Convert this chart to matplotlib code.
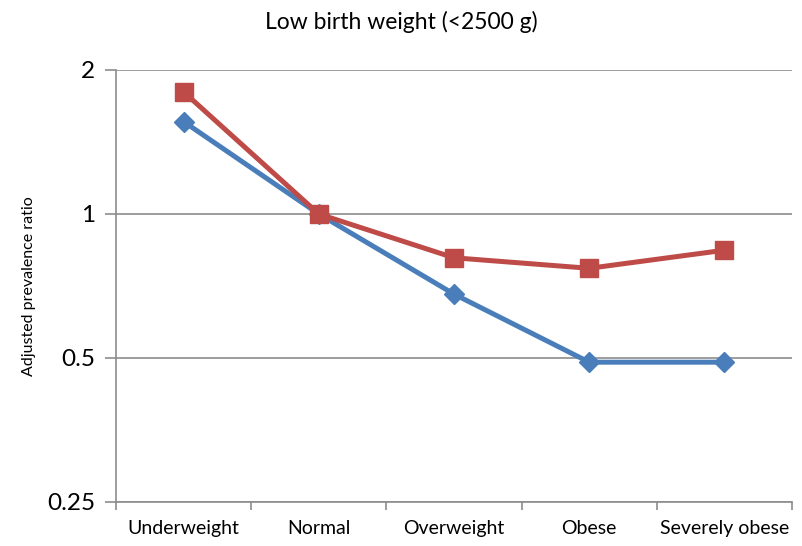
import matplotlib
matplotlib.use("Agg")
import matplotlib.pyplot as plt
from matplotlib.ticker import FixedLocator, NullLocator

categories = ["Underweight", "Normal", "Overweight", "Obese", "Severely obese"]
blue_vals = [1.56, 1.0, 0.68, 0.49, 0.49]
red_vals = [1.80, 1.0, 0.81, 0.77, 0.84]
y_ticks = [0.25, 0.5, 1, 2]
y_labels = ["0.25", "0.5", "1", "2"]

plt.rcParams['font.family'] = ['Lato', 'DejaVu Sans']

fig = plt.figure(figsize=(8.03, 5.46), dpi=100)
ax = fig.add_axes([116 / 803, 1 - 502 / 546, (792 - 116) / 803, (502 - 70) / 546])

x = list(range(len(categories)))
ax.plot(x, blue_vals, color="#4a7ebb", lw=3.6, marker="D", ms=10,
        solid_capstyle="round", zorder=3)
ax.plot(x, red_vals, color="#be4b48", lw=3.6, marker="s", ms=13,
        solid_capstyle="round", zorder=4)

ax.set_yscale("log", base=2)
ax.set_ylim(0.25, 2)
ax.set_xlim(-0.5, len(categories) - 0.5)
ax.yaxis.set_major_locator(FixedLocator(y_ticks))
ax.yaxis.set_minor_locator(NullLocator())
ax.set_yticklabels(y_labels, fontsize=17.5)
ax.grid(axis="y", color="#8c8c8c", lw=1.2)
ax.set_axisbelow(True)

ax.set_xticks(x)
ax.set_xticklabels(categories, fontsize=14)
ax.xaxis.set_minor_locator(FixedLocator([i - 0.5 for i in range(len(categories) + 1)]))
ax.tick_params(axis="x", which="major", length=0, pad=13)
ax.tick_params(axis="x", which="minor", length=6, color="#8c8c8c", width=1.2)
ax.tick_params(axis="y", length=8, color="#8c8c8c", width=1.2, pad=7)

for s in ["top", "right"]:
    ax.spines[s].set_visible(False)
for s in ["left", "bottom"]:
    ax.spines[s].set_color("#8c8c8c")
    ax.spines[s].set_linewidth(1.2)

ax.set_ylabel("Adjusted prevalence ratio", fontsize=11.5, labelpad=8)
fig.text(0.5, 1 - 22 / 546, "Low birth weight (<2500 g)", ha="center", va="center", fontsize=16.5)

fig.savefig("out.png", dpi=100)
